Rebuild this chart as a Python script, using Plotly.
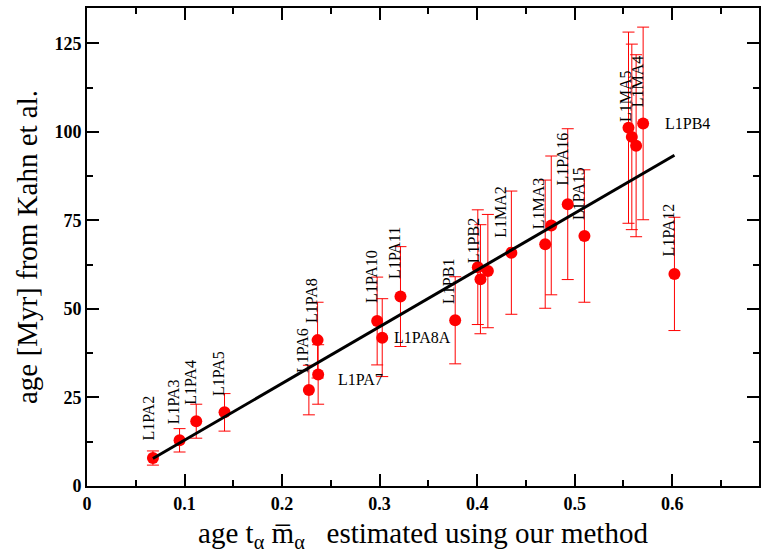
import plotly.graph_objects as go

# Data points (x = age estimated using our method, y = age from Kahn et al.)
x_vals = [0.0676, 0.0949, 0.112, 0.141, 0.2275, 0.2364, 0.237, 0.2975,
          0.3027, 0.3214, 0.3775, 0.4007, 0.4034, 0.411, 0.4351, 0.4698,
          0.476, 0.4929, 0.510, 0.5552, 0.5586, 0.563, 0.5702, 0.6023]
y_vals = [7.9, 12.9, 18.3, 20.8, 27.1, 41.2, 31.5, 46.6,
          41.9, 53.5, 46.8, 61.8, 58.4, 60.7, 65.9, 68.3,
          73.6, 79.6, 70.6, 101.2, 98.6, 96.1, 102.4, 59.9]
y_err = [2.0, 3.3, 4.8, 5.3, 7.0, 10.7, 8.4, 12.4,
         11.0, 14.1, 12.3, 16.2, 15.4, 16.0, 17.4, 18.1,
         19.6, 21.3, 18.7, 27.0, 26.2, 25.7, 27.2, 16.0]

# Fit line endpoints
fit_x = [0.0676, 0.6023]
fit_y = [7.75, 93.4]

# Point labels
label_text = ["L1PA2", "L1PA3", "L1PA4", "L1PA5", "L1PA6", "L1PA8", "L1PA7", "L1PA10",
              "L1PA11", "L1PA8A", "L1PB1", "L1PB2", "L1MA2", "L1MA3", "L1PA16", "L1PA15",
              "L1MA5", "L1MA4", "L1PB4", "L1PA12"]
label_x = [0.0621, 0.0888, 0.1062, 0.1349, 0.2210, 0.2302, 0.2551, 0.2917,
           0.3153, 0.3132, 0.3707, 0.3963, 0.4239, 0.4629, 0.4870, 0.5039,
           0.5521, 0.5639, 0.5903, 0.5961]
label_y = [19.2, 23.8, 29.3, 31.8, 38.3, 52.4, 30.0, 59.2,
           65.7, 41.9, 57.8, 69.3, 77.6, 80.0, 92.5, 82.6,
           110.3, 114.3, 102.4, 72.3]
label_horizontal = ["L1PA7", "L1PA8A", "L1PB4"]

x_ticks = [0, 0.1, 0.2, 0.3, 0.4, 0.5, 0.6]
y_ticks = [0, 25, 50, 75, 100, 125]

SERIF = "Liberation Serif, Times New Roman, serif"

fig = go.Figure()
fig.add_trace(go.Scatter(
    x=x_vals, y=y_vals, mode="markers",
    marker=dict(color="#ff0000", size=12),
    error_y=dict(type="data", array=y_err, visible=True, color="#ff0000",
                 thickness=1, width=6),
    showlegend=False,
))
fig.add_trace(go.Scatter(
    x=fit_x, y=fit_y, mode="lines",
    line=dict(color="black", width=3),
    showlegend=False,
))

annotations = []
for t, lx, ly in zip(label_text, label_x, label_y):
    if t in label_horizontal:
        annotations.append(dict(x=lx, y=ly, xref="x", yref="y", text=t,
                                showarrow=False, xanchor="left", yanchor="middle",
                                font=dict(family=SERIF, size=16, color="black")))
    else:
        annotations.append(dict(x=lx, y=ly, xref="x", yref="y", text=t,
                                showarrow=False, textangle=-90,
                                xanchor="center", yanchor="middle",
                                font=dict(family=SERIF, size=16, color="black")))

axis_common = dict(
    showline=True, linecolor="black", linewidth=2, mirror="ticks",
    ticks="inside", ticklen=12, tickwidth=2, tickcolor="black",
    showgrid=False, zeroline=False, automargin=False,
    tickfont=dict(family=SERIF, size=18, color="black", weight="bold"),
)

fig.update_layout(
    width=761, height=560,
    margin=dict(l=87, r=2, t=8, b=74),
    plot_bgcolor="white", paper_bgcolor="white",
    xaxis=dict(range=[0, 0.689], tickvals=x_ticks,
               ticktext=[str(v) for v in x_ticks],
               minor=dict(dtick=0.05, ticks="inside", ticklen=6, tickwidth=2, tickcolor="black"),
               title=dict(text="age t<sub>α</sub> m\u0305<sub>α</sub>   estimated using our method",
                          font=dict(family=SERIF, size=29, color="black"), standoff=10),
               **axis_common),
    yaxis=dict(range=[0, 135], tickvals=y_ticks,
               ticktext=[str(v) for v in y_ticks],
               minor=dict(dtick=12.5, ticks="inside", ticklen=6, tickwidth=2, tickcolor="black"),
               title=dict(text="age [Myr] from Kahn et al.",
                          font=dict(family=SERIF, size=29, color="black"), standoff=8),
               **axis_common),
    annotations=annotations,
)

fig.write_html("out.html")
